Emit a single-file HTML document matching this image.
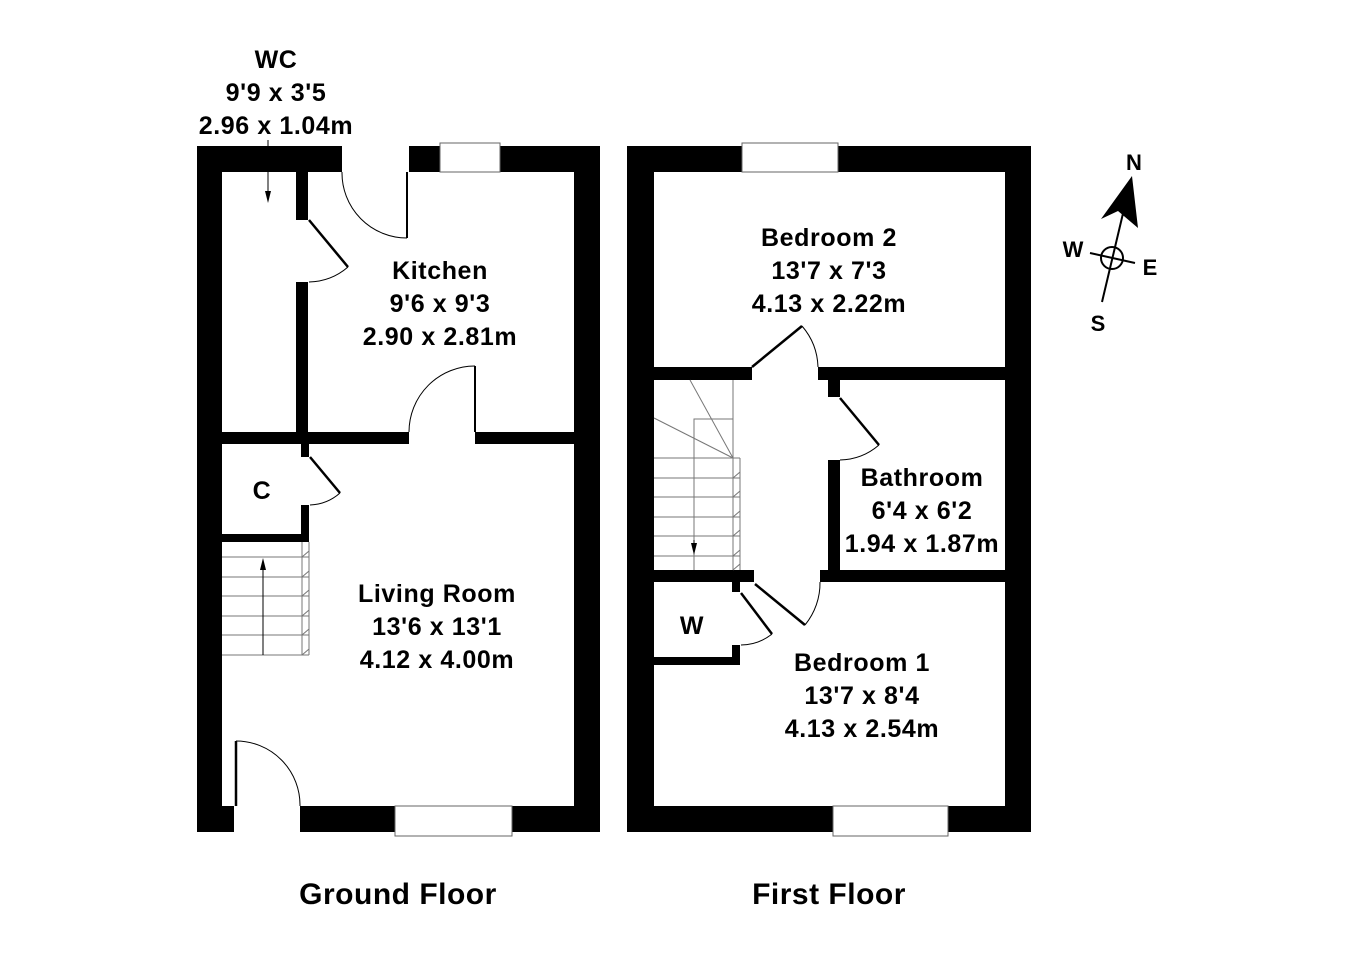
<!DOCTYPE html>
<html><head><meta charset="utf-8"><style>
html,body{margin:0;padding:0;background:#fff;}
svg{display:block;}
text{font-family:"Liberation Sans",Arial,sans-serif;font-weight:bold;fill:#000;text-anchor:middle;}
</style></head><body>
<svg width="1350" height="954" viewBox="0 0 1350 954" xmlns="http://www.w3.org/2000/svg">
<g fill="#000">
<rect x="197" y="146" width="145" height="26"/>
<rect x="409" y="146" width="31" height="26"/>
<rect x="500" y="146" width="100" height="26"/>
<rect x="197" y="146" width="25" height="686"/>
<rect x="574" y="146" width="26" height="686"/>
<rect x="197" y="806" width="37" height="26"/>
<rect x="300" y="806" width="95" height="26"/>
<rect x="512" y="806" width="88" height="26"/>
<rect x="296" y="172" width="12" height="48"/>
<rect x="296" y="282" width="12" height="162"/>
<rect x="222" y="432" width="187" height="12"/>
<rect x="475" y="432" width="99" height="12"/>
<rect x="301" y="444" width="8" height="13"/>
<rect x="301" y="505" width="8" height="37"/>
<rect x="222" y="534" width="87" height="8"/>
<rect x="627" y="146" width="115" height="26"/>
<rect x="838" y="146" width="193" height="26"/>
<rect x="627" y="146" width="27" height="686"/>
<rect x="1005" y="146" width="26" height="686"/>
<rect x="627" y="806" width="206" height="26"/>
<rect x="948" y="806" width="83" height="26"/>
<rect x="654" y="367" width="98" height="13"/>
<rect x="818" y="367" width="187" height="13"/>
<rect x="828" y="380" width="12" height="17"/>
<rect x="828" y="460" width="12" height="112"/>
<rect x="654" y="570" width="100" height="12"/>
<rect x="820" y="570" width="185" height="12"/>
<rect x="732" y="582" width="8" height="10"/>
<rect x="732" y="645" width="8" height="20"/>
<rect x="654" y="657" width="86" height="8"/>
</g>
<g fill="none" stroke="#000">
<rect x="440" y="143" width="60" height="29" stroke-width="1" stroke="#666"/>
<rect x="395" y="806" width="117" height="30" stroke-width="1" stroke="#666"/>
<rect x="742" y="143" width="96" height="29" stroke-width="1" stroke="#666"/>
<rect x="833" y="806" width="115" height="30" stroke-width="1" stroke="#666"/>
<line x1="407" y1="172" x2="407" y2="238" stroke-width="2"/>
<path d="M342,172 A65,65 0 0 0 407,238" stroke-width="1"/>
<line x1="309" y1="220" x2="348" y2="267" stroke-width="2.5"/>
<path d="M309,282 A62,62 0 0 0 348,267" stroke-width="1"/>
<line x1="475" y1="366" x2="475" y2="432" stroke-width="2"/>
<path d="M475,366 A66,66 0 0 0 409,432" stroke-width="1"/>
<line x1="310" y1="457" x2="340" y2="493" stroke-width="2.5"/>
<path d="M310,505 A48,48 0 0 0 340,493" stroke-width="1"/>
<line x1="236" y1="741" x2="236" y2="806" stroke-width="2.5"/>
<path d="M236,741 A64,64 0 0 1 300,806" stroke-width="1"/>
<line x1="268" y1="140" x2="268" y2="195" stroke-width="1"/>
<line x1="752" y1="367" x2="802" y2="326" stroke-width="2.5"/>
<path d="M802,326 A66,66 0 0 1 818,367" stroke-width="1"/>
<line x1="840" y1="398" x2="879" y2="445" stroke-width="2.5"/>
<path d="M840,460 A62,62 0 0 0 879,445" stroke-width="1"/>
<line x1="755" y1="584" x2="805" y2="625" stroke-width="2.5"/>
<path d="M805,625 A66,66 0 0 0 820,582" stroke-width="1"/>
<line x1="741" y1="593" x2="772" y2="634" stroke-width="2.5"/>
<path d="M741,645 A50,50 0 0 0 772,634" stroke-width="1"/>
</g>
<g stroke="#777" stroke-width="1" fill="none">
<line x1="222" y1="557" x2="309" y2="557"/>
<line x1="222" y1="577" x2="309" y2="577"/>
<line x1="222" y1="596" x2="309" y2="596"/>
<line x1="222" y1="616" x2="309" y2="616"/>
<line x1="222" y1="635" x2="309" y2="635"/>
<line x1="222" y1="655" x2="309" y2="655"/>
<line x1="302" y1="542" x2="302" y2="655"/>
<line x1="309" y1="542" x2="309" y2="655"/>
<path d="M302,557 L309,551 M302,577 L309,571 M302,596 L309,590 M302,616 L309,610 M302,635 L309,629 M302,655 L309,649"/>
<line x1="733" y1="380" x2="733" y2="570"/>
<line x1="740" y1="458" x2="740" y2="570"/>
<polyline points="694,570 694,419 733,419"/>
<line x1="733" y1="458" x2="654" y2="418"/>
<line x1="733" y1="458" x2="690" y2="380"/>
<line x1="654" y1="458" x2="740" y2="458"/>
<line x1="654" y1="478" x2="740" y2="478"/>
<line x1="654" y1="497" x2="740" y2="497"/>
<line x1="654" y1="517" x2="740" y2="517"/>
<line x1="654" y1="536" x2="740" y2="536"/>
<line x1="654" y1="556" x2="740" y2="556"/>
<path d="M733,478 L740,472 M733,497 L740,491 M733,517 L740,511 M733,536 L740,530 M733,556 L740,550 M733,570 L740,564"/>
</g>
<g stroke="#000" stroke-width="1"><line x1="263" y1="655" x2="263" y2="565"/><line x1="694" y1="540" x2="694" y2="553"/></g>
<polygon points="263,558 260,570 266,570" fill="#000"/>
<polygon points="694,555 691,543 697,543" fill="#000"/>
<polygon points="268,203 265,191 271,191" fill="#000"/>
<g stroke="#000" stroke-width="2" fill="none">
<line x1="1102" y1="302" x2="1125" y2="205"/>
<line x1="1090" y1="253" x2="1135" y2="263"/>
<circle cx="1112" cy="258" r="11"/>
</g>
<polygon points="1132,176 1101,219 1118,211 1138,228" fill="#000"/>
<g font-size="25" letter-spacing="0.6">
<text x="276" y="68">WC</text>
<text x="276" y="101">9'9 x 3'5</text>
<text x="276" y="134">2.96 x 1.04m</text>
<text x="440" y="279">Kitchen</text>
<text x="440" y="312">9'6 x 9'3</text>
<text x="440" y="345">2.90 x 2.81m</text>
<text x="262" y="499">C</text>
<text x="437" y="602">Living Room</text>
<text x="437" y="635">13'6 x 13'1</text>
<text x="437" y="668">4.12 x 4.00m</text>
<text x="829" y="246">Bedroom 2</text>
<text x="829" y="279">13'7 x 7'3</text>
<text x="829" y="312">4.13 x 2.22m</text>
<text x="922" y="486">Bathroom</text>
<text x="922" y="519">6'4 x 6'2</text>
<text x="922" y="552">1.94 x 1.87m</text>
<text x="692" y="634">W</text>
<text x="862" y="671">Bedroom 1</text>
<text x="862" y="704">13'7 x 8'4</text>
<text x="862" y="737">4.13 x 2.54m</text>
</g>
<g font-size="22">
<text x="1134" y="170">N</text>
<text x="1073" y="257">W</text>
<text x="1150" y="275">E</text>
<text x="1098" y="331">S</text>
</g>
<g font-size="30" letter-spacing="0.5">
<text x="398" y="904">Ground Floor</text>
<text x="829" y="904">First Floor</text>
</g>
</svg>
</body></html>
